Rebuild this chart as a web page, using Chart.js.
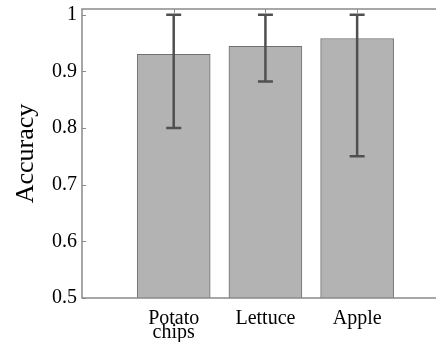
<!DOCTYPE html>
<html>
<head>
<meta charset="utf-8">
<script src="https://cdn.jsdelivr.net/npm/chart.js@4/dist/chart.umd.min.js"></script>
<style>
  body { margin: 0; background: #fff; }
  #wrap { width: 436px; height: 342px; }
</style>
</head>
<body>
<div id="wrap"><canvas id="accChart" width="436" height="342"></canvas></div>
<script>
// values
const categories = ['Potato chips', 'Lettuce', 'Apple'];
const xPositions = [1, 2, 3];
const accuracy = [0.930, 0.944, 0.958];
const errLow = [0.800, 0.882, 0.750];
const errHigh = [1.000, 1.000, 1.000];
const yTicks = [0.5, 0.6, 0.7, 0.8, 0.9, 1.0];
const yTickLabels = ['0.5', '0.6', '0.7', '0.8', '0.9', '1'];

const serif = 'Liberation Serif';
const axisColor = '#8a8a8a';

// box frame with inward ticks, like the matlab axes
const framePlugin = {
  id: 'frame',
  afterDatasetsDraw(chart) {
    const { ctx, chartArea: a, scales: { x, y } } = chart;
    ctx.save();
    ctx.strokeStyle = axisColor;
    ctx.lineWidth = 1.5;
    ctx.beginPath();
    ctx.moveTo(a.right + 2, a.top);
    ctx.lineTo(a.left, a.top);
    ctx.lineTo(a.left, a.bottom);
    ctx.lineTo(a.right + 2, a.bottom);
    ctx.stroke();
    ctx.lineWidth = 1;
    ctx.beginPath();
    yTicks.forEach(v => {
      const py = Math.round(y.getPixelForValue(v)) + 0.5;
      ctx.moveTo(a.left, py);
      ctx.lineTo(a.left + 4, py);
    });
    xPositions.forEach(v => {
      const px = Math.round(x.getPixelForValue(v)) + 0.5;
      ctx.moveTo(px, a.top);
      ctx.lineTo(px, a.top + 4);
    });
    ctx.stroke();
    ctx.restore();
  }
};

const errorBarPlugin = {
  id: 'errorBars',
  afterDatasetsDraw(chart) {
    const { ctx, scales: { x, y } } = chart;
    ctx.save();
    ctx.strokeStyle = '#505050';
    ctx.lineWidth = 2.5;
    xPositions.forEach((v, i) => {
      const px = x.getPixelForValue(v);
      const top = y.getPixelForValue(errHigh[i]);
      const bot = y.getPixelForValue(errLow[i]);
      ctx.beginPath();
      ctx.moveTo(px, top);
      ctx.lineTo(px, bot);
      ctx.moveTo(px - 7.5, top);
      ctx.lineTo(px + 7.5, top);
      ctx.moveTo(px - 7.5, bot);
      ctx.lineTo(px + 7.5, bot);
      ctx.stroke();
    });
    ctx.restore();
  }
};

new Chart(document.getElementById('accChart'), {
  type: 'bar',
  data: {
    datasets: [{
      data: xPositions.map((v, i) => ({ x: v, y: accuracy[i] })),
      backgroundColor: '#b3b3b3',
      borderColor: '#707070',
      borderWidth: 1,
      barThickness: 73
    }]
  },
  options: {
    responsive: false,
    animation: false,
    devicePixelRatio: 1,
    layout: { padding: { top: 9, left: 0, right: 0, bottom: 0 } },
    plugins: {
      legend: { display: false },
      tooltip: { enabled: false }
    },
    scales: {
      x: {
        type: 'linear',
        offset: false,
        min: 0,
        max: 3.86,
        grid: { display: false, drawTicks: false, offset: false },
        border: { display: false },
        afterBuildTicks(scale) {
          scale.ticks = xPositions.map(v => ({ value: v }));
        },
        afterFit(scale) {
          scale.height = 44;
          scale.paddingLeft = 0;
          scale.paddingRight = 0;
        },
        ticks: {
          autoSkip: false,
          maxRotation: 0,
          padding: 13.5,
          color: '#000',
          font: { family: serif, size: 20, lineHeight: 0.7 },
          callback: (v) => {
            const label = categories[xPositions.indexOf(v)] || '';
            return label.includes(' ') ? label.split(' ') : label;
          }
        }
      },
      y: {
        min: 0.5,
        max: 1.01,
        grid: { display: false, drawTicks: false },
        border: { display: false },
        afterBuildTicks(scale) {
          scale.ticks = yTicks.map(v => ({ value: v }));
        },
        afterFit(scale) {
          scale.width = 82;
          scale.paddingTop = 0;
          scale.paddingBottom = 0;
        },
        ticks: {
          padding: 5,
          color: '#000',
          font: { family: serif, size: 20 },
          callback: (v, i) => yTickLabels[i]
        },
        title: {
          display: true,
          text: 'Accuracy',
          color: '#000',
          font: { family: serif, size: 26, lineHeight: 1 },
          padding: { top: 13, bottom: 0 }
        }
      }
    }
  },
  plugins: [errorBarPlugin, framePlugin]
});
</script>
</body>
</html>
